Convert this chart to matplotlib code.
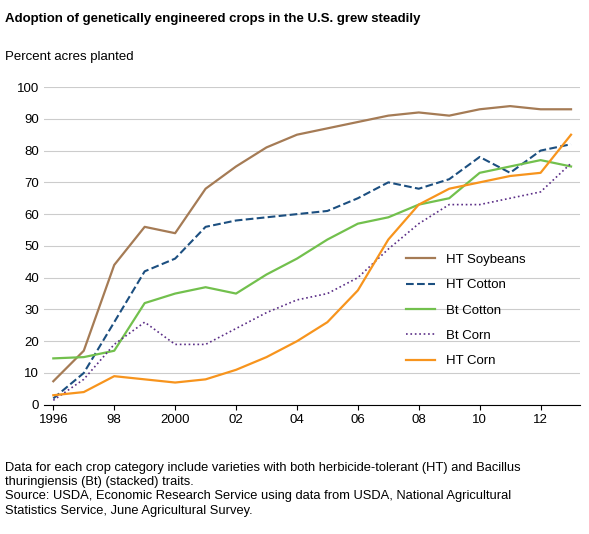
import matplotlib.pyplot as plt

years = list(range(1996, 2014))
ht_soybeans = [7.4, 17, 44, 56, 54, 68, 75, 81, 85, 87, 89, 91, 92, 91, 93, 94, 93, 93]
ht_cotton = [2, 10, 26, 42, 46, 56, 58, 59, 60, 61, 65, 70, 68, 71, 78, 73, 80, 82]
bt_cotton = [14.6, 15, 17, 32, 35, 37, 35, 41, 46, 52, 57, 59, 63, 65, 73, 75, 77, 75]
bt_corn = [1.4, 8, 19, 26, 19, 19, 24, 29, 33, 35, 40, 49, 57, 63, 63, 65, 67, 76]
ht_corn = [3, 4, 9, 8, 7, 8, 11, 15, 20, 26, 36, 52, 63, 68, 70, 72, 73, 85]
tick_years = [1996, 1998, 2000, 2002, 2004, 2006, 2008, 2010, 2012]
tick_labels = ['1996', '98', '2000', '02', '04', '06', '08', '10', '12']

plt.rcParams['font.family'] = ['Liberation Sans', 'DejaVu Sans']
fig = plt.figure(figsize=(5.89, 5.34), dpi=100)
ax = fig.add_axes([0.075, 0.242, 0.91, 0.595])

ax.plot(years, ht_soybeans, '-', color='#a57b55', lw=1.6, label='HT Soybeans')
ax.plot(years, ht_cotton, '--', color='#1c4f80', lw=1.5, label='HT Cotton')
ax.plot(years, bt_cotton, '-', color='#72c04d', lw=1.6, label='Bt Cotton')
ax.plot(years, bt_corn, ':', color='#5a2d86', lw=1.2, label='Bt Corn')
ax.plot(years, ht_corn, '-', color='#f7941d', lw=1.6, label='HT Corn')

ax.set_xlim(1995.7, 2013.3)
ax.set_ylim(0, 100)
ax.set_yticks(range(0, 101, 10))
ax.set_xticks(tick_years)
ax.set_xticklabels(tick_labels)
ax.yaxis.grid(True, color='#cccccc', lw=0.8)
ax.set_axisbelow(True)
for s in ['top', 'right', 'left']:
    ax.spines[s].set_visible(False)
ax.tick_params(axis='y', length=0, labelsize=9.5)
ax.tick_params(axis='x', labelsize=9.5, direction='out')
ax.legend(loc='lower right', bbox_to_anchor=(0.92, 0.08), frameon=False, fontsize=9.5,
          handlelength=2.2, labelspacing=1.0)

fig.text(0.008, 0.975, 'Adoption of genetically engineered crops in the U.S. grew steadily',
         fontsize=9.5, fontweight='bold', va='top')
fig.text(0.008, 0.905, 'Percent acres planted', fontsize=9.5, va='top')
fig.text(0.008, 0.135, 'Data for each crop category include varieties with both herbicide-tolerant (HT) and Bacillus\n'
         'thuringiensis (Bt) (stacked) traits.\n'
         'Source: USDA, Economic Research Service using data from USDA, National Agricultural\n'
         'Statistics Service, June Agricultural Survey.', fontsize=9.3, va='top', linespacing=1.25)

plt.savefig('out.png', dpi=100)
plt.close()
